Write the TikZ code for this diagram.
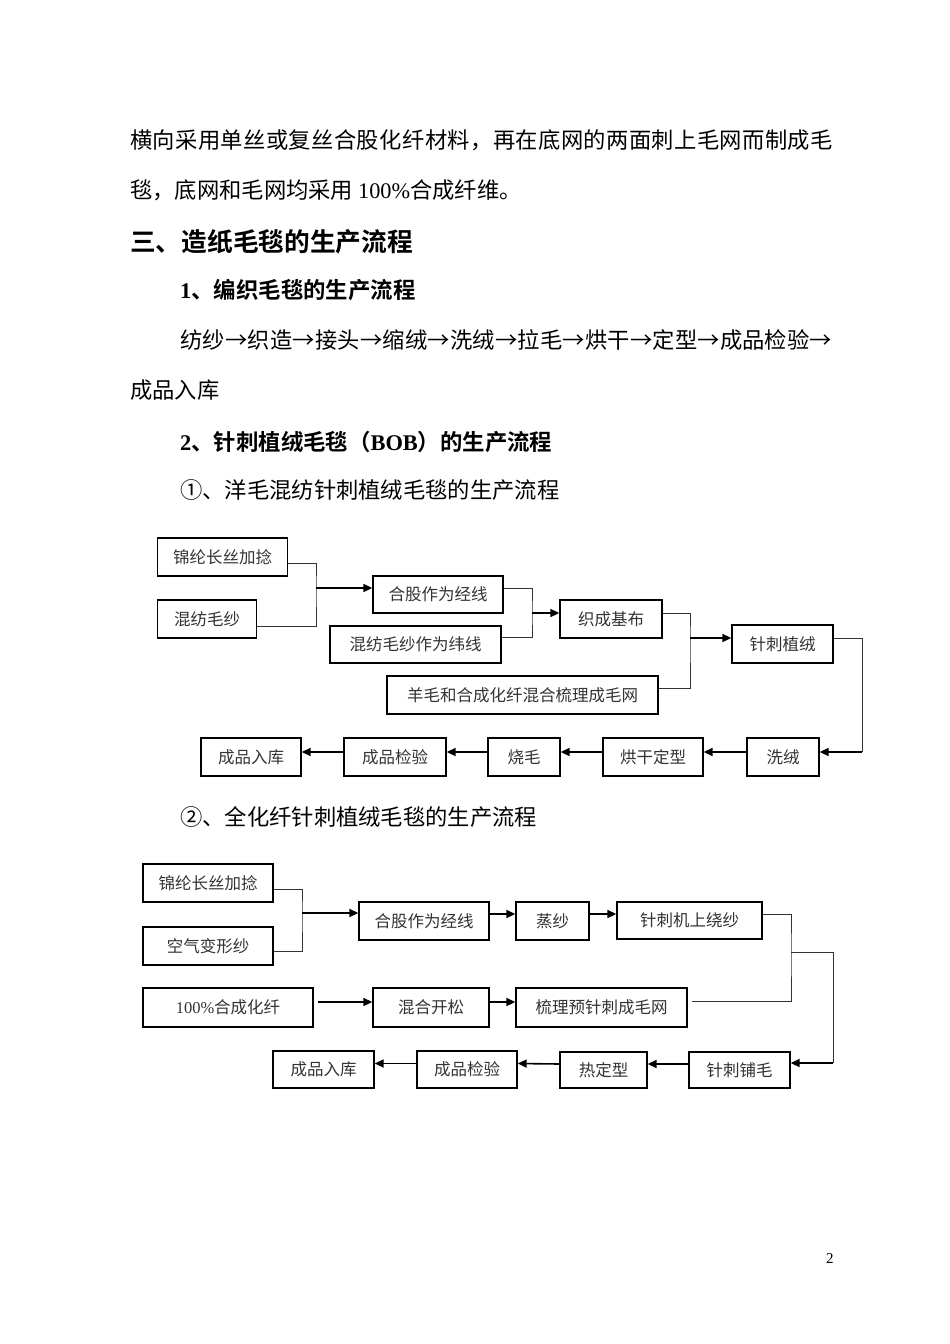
\documentclass[tikz,border=0pt]{standalone}
\usepackage{fontspec}
\setmainfont{Liberation Serif}
\newfontfamily\cjk{Noto Sans CJK SC}[BoldFont={Noto Sans CJK SC Bold}]
\usepackage{tikz}
\usetikzlibrary{calc,arrows.meta}
\newcommand{\tnr}[1]{{\rmfamily #1}}
\newcommand{\arr}{\hfill{}→\hfill{}}

\tikzset{
  stepbox/.style={draw, line width=1.3pt, inner sep=0pt, minimum height=38pt,
    font=\cjk\fontsize{16.5}{18}\selectfont, text=black!80},
  link/.style={line width=1pt, black!80},
  flow/.style={line width=1.6pt, -{Triangle[length=9pt,width=8pt]}},
  para/.style={anchor=base west, inner sep=0pt, font=\cjk\fontsize{22.3}{26}\selectfont},
  head/.style={anchor=base west, inner sep=0pt, font=\cjk\bfseries\fontsize{25.7}{28}\selectfont},
  subhead/.style={anchor=base west, inner sep=0pt, font=\cjk\bfseries\fontsize{22.4}{26}\selectfont},
}

\begin{document}
\begin{tikzpicture}[x=1pt,y=-1pt]
	\useasboundingbox[fill=white] (0,0) rectangle (950,1344);

	% page text
	\node[para] (t1) at (130,148) {\addfontfeatures{LetterSpace=1.7}横向采用单丝或复丝合股化纤材料，再在底网的两面刺上毛网而制成毛};
	\node[para] (t2) at (130,198) {毯，底网和毛网均采用 \tnr{100\%}合成纤维。};
	\node[head] (t3) at (130,251) {三、造纸毛毯的生产流程};
	\node[subhead] (t4) at (180,298) {\tnr{1}、编织毛毯的生产流程};
	\node[para] (t5) at (180,348) {\makebox[652pt]{纺纱\arr{}织造\arr{}接头\arr{}缩绒\arr{}洗绒\arr{}拉毛\arr{}烘干\arr{}定型\arr{}成品检验\hfill{}→}};
	\node[para] (t6) at (130,398) {成品入库};
	\node[subhead] (t7) at (180,450) {\tnr{2}、针刺植绒毛毯（\tnr{BOB}）的生产流程};
	\node[para] (t8) at (180,498) {①、洋毛混纺针刺植绒毛毯的生产流程};
	\node[para] (t9) at (180,825) {②、全化纤针刺植绒毛毯的生产流程};
	\node[anchor=base west, inner sep=0pt, font=\fontsize{15}{16}\selectfont] (pg) at (826,1263) {2};

	% chart 1
	\node[stepbox, minimum width=130pt] (ja) at (222.5,557) {锦纶长丝加捻};
	\node[stepbox, minimum width=99pt] (hf) at (207,619) {混纺毛纱};
	\node[stepbox, minimum width=130pt, minimum height=37pt] (hg) at (438,594.5) {合股作为经线};
	\node[stepbox, minimum width=171pt, minimum height=37pt] (hw) at (415.5,644.5) {混纺毛纱作为纬线};
	\node[stepbox, minimum width=102pt] (jb) at (611,619) {织成基布};
	\node[stepbox, minimum width=271pt] (ym) at (522.5,695) {羊毛和合成化纤混合梳理成毛网};
	\node[stepbox, minimum width=101pt] (zr) at (782.5,644) {针刺植绒};
	\node[stepbox, minimum width=72pt] (xr) at (783,757) {洗绒};
	\node[stepbox, minimum width=100pt] (hd) at (653,757) {烘干定型};
	\node[stepbox, minimum width=72pt] (sm) at (524,757) {烧毛};
	\node[stepbox, minimum width=102pt] (jy) at (395,757) {成品检验};
	\node[stepbox, minimum width=100pt] (rk) at (251,757) {成品入库};

	\coordinate (m1) at (316,588);
	\coordinate (m2) at (532,613);
	\coordinate (m3) at (690,638);
	\coordinate (c1) at (862,752);
	\draw[link] ([yshift=-6pt]ja.east) -| (m1) |- ([yshift=-7pt]hf.east);
	\draw[flow] (m1) -- (hg.west |- m1);
	\draw[link] ([yshift=6.5pt]hg.east) -| (m2) |- ([yshift=7.5pt]hw.east);
	\draw[flow] (m2) -- (jb.west |- m2);
	\draw[link] ([yshift=6pt]jb.east) -| (m3) |- ([yshift=7pt]ym.east);
	\draw[flow] (m3) -- (zr.west |- m3);
	\draw[link] ([yshift=6pt]zr.east) -| (c1);
	\draw[flow] (c1) -- (xr.east |- c1);
	\foreach \a/\b in {xr/hd, hd/sm, sm/jy, jy/rk}
		\draw[flow] ([yshift=5pt]\a.west) -- ([yshift=5pt]\b.east);

	% chart 2
	\node[stepbox, minimum width=130pt] (ja2) at (208,883) {锦纶长丝加捻};
	\node[stepbox, minimum width=130pt] (kq) at (208,946) {空气变形纱};
	\node[stepbox, minimum width=130pt] (hg2) at (424,921) {合股作为经线};
	\node[stepbox, minimum width=73pt] (zs) at (552.5,921) {蒸纱};
	\node[stepbox, minimum width=145pt, minimum height=37pt] (zj) at (689.5,920.5) {针刺机上绕纱};
	\node[stepbox, minimum width=170pt, minimum height=39pt] (hx) at (228,1007.5) {\tnr{100\%}合成化纤};
	\node[stepbox, minimum width=116pt, minimum height=39pt] (hk) at (431,1007.5) {混合开松};
	\node[stepbox, minimum width=171pt, minimum height=39pt] (sl) at (601.5,1007.5) {梳理预针刺成毛网};
	\node[stepbox, minimum width=101pt, minimum height=36pt] (zp) at (739.5,1070) {针刺铺毛};
	\node[stepbox, minimum width=87pt, minimum height=36pt] (rd) at (603.5,1070) {热定型};
	\node[stepbox, minimum width=100pt, minimum height=37pt] (jy2) at (467,1069.5) {成品检验};
	\node[stepbox, minimum width=101pt, minimum height=37pt] (rk2) at (323.5,1069.5) {成品入库};

	\coordinate (m4) at (302,913);
	\coordinate (m5) at (791,952);
	\coordinate (c2) at (833,1063);
	\draw[link] ([yshift=-6pt]ja2.east) -| (m4) |- ([yshift=-5pt]kq.east);
	\draw[flow] (m4) -- (hg2.west |- m4);
	\draw[flow] ([yshift=7pt]hg2.east) -- ([yshift=7pt]zs.west);
	\draw[flow] ([yshift=7pt]zs.east) -- ([yshift=7pt]zs.east -| zj.west);
	\draw[flow] ([xshift=4pt,yshift=5.5pt]hx.east) -- ([yshift=5.5pt]hk.west);
	\draw[flow] ([yshift=5.5pt]hk.east) -- ([yshift=5.5pt]sl.west);
	\draw[link] ([yshift=6.5pt]zj.east) -| (m5) |- ([xshift=4pt,yshift=6.5pt]sl.east);
	\draw[link] (m5) -| (c2);
	\draw[flow] (c2) -- (zp.east |- c2);
	\foreach \a/\b in {zp/rd, rd/jy2, jy2/rk2}
		\draw[flow] ([yshift=6pt]\a.west) -- ([yshift=6pt]\b.east);
\end{tikzpicture}
\end{document}
